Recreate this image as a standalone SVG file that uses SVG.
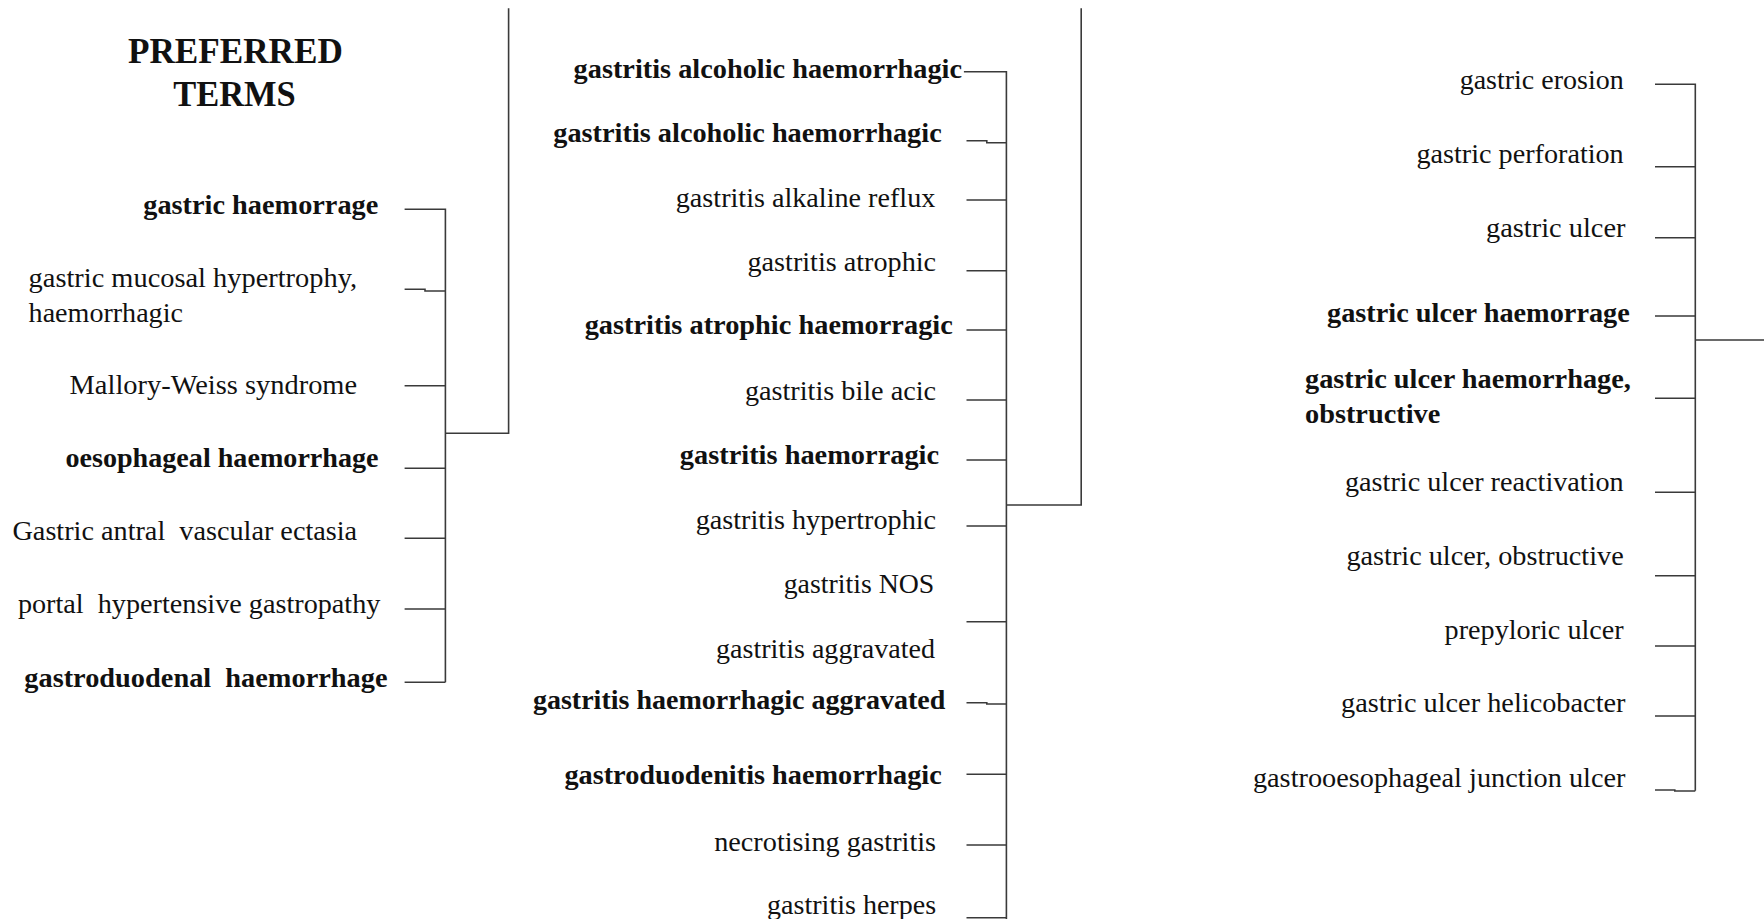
<svg xmlns="http://www.w3.org/2000/svg" width="1764" height="919" viewBox="0 0 1764 919">
<style>
text{font-family:"Liberation Serif","Times New Roman",serif;fill:#111;font-size:28px}
.b{font-weight:bold}
.t{font-weight:bold;font-size:35px}
.c{fill:none;stroke:#3a3a3a;stroke-width:1.6}
</style>
<rect width="1764" height="919" fill="#fff"/>
<g id="title">
<text class="t" x="127.9" y="63.3" textLength="215" lengthAdjust="spacingAndGlyphs">PREFERRED</text>
<text class="t" x="173.2" y="106" textLength="122.5" lengthAdjust="spacingAndGlyphs">TERMS</text>
</g>
<g id="n-gastric-haemorrage"><text class="b" x="143.3" y="213.5" textLength="235" lengthAdjust="spacingAndGlyphs">gastric haemorrage</text></g>
<g id="n-gastric-mucosal"><text x="28.6" y="287.3" textLength="328.5" lengthAdjust="spacingAndGlyphs">gastric mucosal hypertrophy,</text><text x="28.6" y="321.7" textLength="154.3" lengthAdjust="spacingAndGlyphs">haemorrhagic</text></g>
<g id="n-mallory"><text x="69.6" y="393.5" textLength="287.5" lengthAdjust="spacingAndGlyphs">Mallory-Weiss syndrome</text></g>
<g id="n-oesophageal"><text class="b" x="65.4" y="466.7" textLength="313.2" lengthAdjust="spacingAndGlyphs">oesophageal haemorrhage</text></g>
<g id="n-gave"><text x="12.5" y="540" textLength="344.6" lengthAdjust="spacingAndGlyphs" xml:space="preserve">Gastric antral  vascular ectasia</text></g>
<g id="n-portal"><text x="17.9" y="613.3" textLength="362.5" lengthAdjust="spacingAndGlyphs" xml:space="preserve">portal  hypertensive gastropathy</text></g>
<g id="n-gastroduodenal"><text class="b" x="24.3" y="686.7" textLength="363.2" lengthAdjust="spacingAndGlyphs" xml:space="preserve">gastroduodenal  haemorrhage</text></g>

<g id="m-alc1"><text class="b" x="573.6" y="78.3" textLength="388.4" lengthAdjust="spacingAndGlyphs">gastritis alcoholic haemorrhagic</text></g>
<g id="m-alc2"><text class="b" x="553.3" y="141.7" textLength="388.4" lengthAdjust="spacingAndGlyphs">gastritis alcoholic haemorrhagic</text></g>
<g id="m-alkaline"><text x="675.8" y="206.5" textLength="259.5" lengthAdjust="spacingAndGlyphs">gastritis alkaline reflux</text></g>
<g id="m-atrophic"><text x="747.5" y="270.7" textLength="188.6" lengthAdjust="spacingAndGlyphs">gastritis atrophic</text></g>
<g id="m-atrophic-h"><text class="b" x="584.7" y="334" textLength="368.1" lengthAdjust="spacingAndGlyphs">gastritis atrophic haemorragic</text></g>
<g id="m-bile"><text x="744.9" y="400" textLength="191.2" lengthAdjust="spacingAndGlyphs">gastritis bile acic</text></g>
<g id="m-haem"><text class="b" x="679.8" y="464.3" textLength="259.3" lengthAdjust="spacingAndGlyphs">gastritis haemorragic</text></g>
<g id="m-hyper"><text x="695.7" y="529.3" textLength="240.4" lengthAdjust="spacingAndGlyphs">gastritis hypertrophic</text></g>
<g id="m-nos"><text x="783.7" y="592.7" textLength="150.6" lengthAdjust="spacingAndGlyphs">gastritis NOS</text></g>
<g id="m-aggr"><text x="716" y="657.7" textLength="219" lengthAdjust="spacingAndGlyphs">gastritis aggravated</text></g>
<g id="m-haem-aggr"><text class="b" x="532.9" y="709.3" textLength="412.5" lengthAdjust="spacingAndGlyphs">gastritis haemorrhagic aggravated</text></g>
<g id="m-gastroduodenitis"><text class="b" x="564.4" y="784.3" textLength="377.3" lengthAdjust="spacingAndGlyphs">gastroduodenitis haemorrhagic</text></g>
<g id="m-necro"><text x="714.2" y="851" textLength="221.9" lengthAdjust="spacingAndGlyphs">necrotising gastritis</text></g>
<g id="m-herpes"><text x="767.1" y="914.3" textLength="169" lengthAdjust="spacingAndGlyphs">gastritis herpes</text></g>

<g id="r-erosion"><text x="1459.7" y="89.3" textLength="164" lengthAdjust="spacingAndGlyphs">gastric erosion</text></g>
<g id="r-perforation"><text x="1416.5" y="163.3" textLength="207.2" lengthAdjust="spacingAndGlyphs">gastric perforation</text></g>
<g id="r-ulcer"><text x="1486" y="236.7" textLength="139.5" lengthAdjust="spacingAndGlyphs">gastric ulcer</text></g>
<g id="r-ulcer-haem"><text class="b" x="1327" y="321.7" textLength="302.8" lengthAdjust="spacingAndGlyphs">gastric ulcer haemorrage</text></g>
<g id="r-ulcer-haem-obs"><text class="b" x="1305" y="388.3" textLength="325.9" lengthAdjust="spacingAndGlyphs">gastric ulcer haemorrhage,</text><text class="b" x="1305" y="422.7" textLength="135.3" lengthAdjust="spacingAndGlyphs">obstructive</text></g>
<g id="r-reactivation"><text x="1345" y="490.7" textLength="278.7" lengthAdjust="spacingAndGlyphs">gastric ulcer reactivation</text></g>
<g id="r-obstructive"><text x="1346.4" y="565" textLength="277.3" lengthAdjust="spacingAndGlyphs">gastric ulcer, obstructive</text></g>
<g id="r-prepyloric"><text x="1444.6" y="639.3" textLength="179.1" lengthAdjust="spacingAndGlyphs">prepyloric ulcer</text></g>
<g id="r-helicobacter"><text x="1341" y="711.7" textLength="284.5" lengthAdjust="spacingAndGlyphs">gastric ulcer helicobacter</text></g>
<g id="r-junction"><text x="1252.9" y="786.7" textLength="372.6" lengthAdjust="spacingAndGlyphs">gastrooesophageal junction ulcer</text></g>

<g id="connectors">
<path class="c" d="M404.6 209.3 H445.4 V682.3 M404.6 289.3 H425 V291 H445.4 M404.6 385.7 H445.4 M404.6 468.3 H445.4 M404.6 538.3 H445.4 M404.6 609 H445.4 M404.6 682.3 H445.4 M445.4 433.3 H508.6 V8.3"/>
<path class="c" d="M963.9 71.7 H1006.4 V919 M966.5 140.7 H986.8 V142.7 H1006.4 M966.5 200 H1006.4 M966.5 270.7 H1006.4 M966.5 330 H1006.4 M966.5 400 H1006.4 M966.5 460 H1006.4 M966.5 526 H1006.4 M966.5 621.7 H1006.4 M966.5 702.7 H986.8 V704 H1006.4 M966.5 774.3 H1006.4 M966.5 845 H1006.4 M1006.4 505 H1081.2 V8.3"/>
<path class="c" stroke="#999" d="M966.5 917.7 H1006.4"/>
<path class="c" d="M1655 84.3 H1695.3 V790.7 M1655 166.7 H1695.3 M1655 237.7 H1695.3 M1655 316 H1695.3 M1655 398.3 H1695.3 M1655 492.3 H1695.3 M1655 575.7 H1695.3 M1655 646 H1695.3 M1655 716 H1695.3 M1655 790 H1674.8 V791 H1695.3 M1695.3 340 H1764"/>
</g>
</svg>
